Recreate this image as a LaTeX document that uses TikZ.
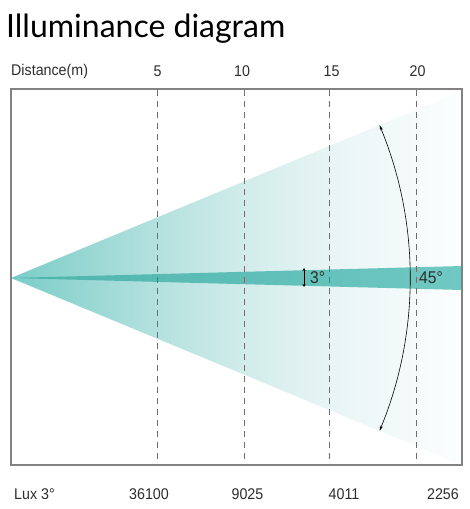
\documentclass[tikz,border=0pt]{standalone}
\usepackage{fontspec}
\setmainfont{Liberation Sans}
\newfontfamily\titlefont{Lato}
\newfontfamily\narrowfont[FakeStretch=0.92]{Liberation Sans}
\usetikzlibrary{arrows.meta}
\definecolor{bandL}{RGB}{76,180,172}
\definecolor{bandR}{RGB}{112,200,194}
\definecolor{txt}{RGB}{45,45,45}
\definecolor{frame}{RGB}{130,130,130}
\definecolor{dashcol}{RGB}{110,110,110}
\pgfdeclarehorizontalshading{conefade}{100bp}{rgb(0bp)=(0.478,0.804,0.784); rgb(25bp)=(0.478,0.804,0.784); rgb(40.5bp)=(0.698,0.878,0.867); rgb(50.5bp)=(0.816,0.925,0.918); rgb(60.5bp)=(0.91,0.961,0.957); rgb(70.5bp)=(0.965,0.984,0.984); rgb(75bp)=(0.988,0.996,0.996); rgb(100bp)=(0.988,0.996,0.996)}
\begin{document}
\begin{tikzpicture}[x=1pt,y=-1pt,
  lbl/.style={font=\narrowfont\fontsize{15.5}{16}\selectfont, text=txt, inner sep=0pt},
  bigl/.style={font=\narrowfont\fontsize{17}{18}\selectfont, text=txt, inner sep=0pt},
  dashline/.style={draw=dashcol, line width=0.8pt, dash pattern=on 6pt off 5pt},
  tip/.style={{Stealth[length=5pt,width=3pt]}-{Stealth[length=5pt,width=3pt]}}]
\useasboundingbox (0,0) rectangle (470,509);
\fill[white] (0,0) rectangle (470,509);
% title
\node[anchor=base west, inner sep=0pt, text=black, font=\titlefont\fontsize{32}{34}\selectfont] (title) at (6,37) {Illuminance diagram};
% cone
\coordinate (apex) at (11,278);
\begin{scope}
\clip (apex) -- (462,91) -- (462,465) -- cycle;
\shade[shading=conefade] (11,89) rectangle (462,465);
\end{scope}
% 3 degree band
\shade[left color=bandL, right color=bandR] (apex) -- (462,266) -- (462,290) -- cycle;
% dashed lines
\foreach \x in {157,244,329,416} {\draw[dashline] (\x,90) -- (\x,465);}
% frame
\draw[frame, line width=1.1pt] (11,89) rectangle (462,465);
% arc 45
\draw[black, line width=0.6pt, tip] (apex) ++(-22.5:399) coordinate (arctop) arc[start angle=-22.5, end angle=22.5, radius=399] coordinate (arcbot);
% 3 deg arrow
\coordinate (a3t) at (304,268);
\coordinate (a3b) at (304,287);
\draw[black, line width=0.6pt, {Stealth[length=3pt,width=3pt]}-{Stealth[length=3pt,width=3pt]}] (a3t) -- (a3b);
\node[bigl, anchor=west] (d3) at (310,278) {3°};
\node[bigl, anchor=west] (d45) at (419,278) {45°};
% top labels
\node[lbl, anchor=west] (dist) at (11,71) {Distance(m)};
\node[lbl] (t5) at (157.5,71) {5};
\node[lbl] (t10) at (242,71) {10};
\node[lbl] (t15) at (331.5,71) {15};
\node[lbl] (t20) at (417.5,71) {20};
% bottom labels
\node[lbl, anchor=west] (lux) at (14,494) {Lux 3°};
\node[lbl] (b1) at (149,494) {36100};
\node[lbl] (b2) at (247.5,494) {9025};
\node[lbl] (b3) at (344,494) {4011};
\node[lbl] (b4) at (443,494) {2256};
\end{tikzpicture}
\end{document}
